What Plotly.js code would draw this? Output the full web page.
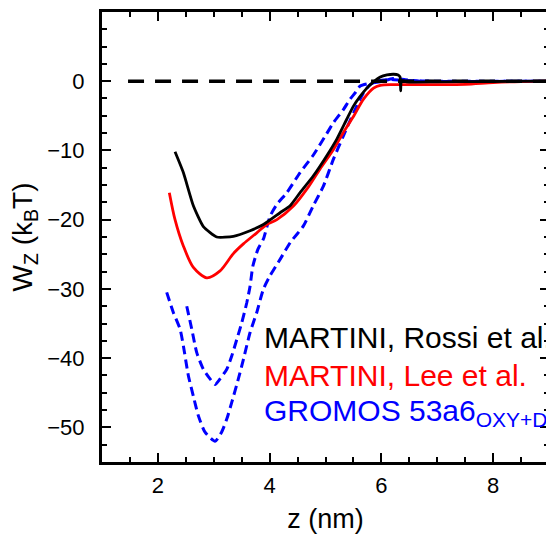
<!DOCTYPE html>
<html>
<head>
<meta charset="utf-8">
<script src="https://cdn.plot.ly/plotly-3.0.1.min.js"></script>
<style>
html, body { margin: 0; padding: 0; overflow: hidden; background: #fff; }
#chart { width: 600px; height: 534px; }
</style>
</head>
<body>
<div id="chart"></div>
<script>
// MARTINI, Rossi et al. (black)
const zRossi = [2.307, 2.456, 2.635, 2.814, 3.054, 3.351, 3.650, 3.888, 4.187, 4.366, 4.545, 4.78, 5.02, 5.20, 5.38, 5.50, 5.62, 5.74, 5.86, 5.98, 6.10, 6.22, 6.30, 6.335, 6.345, 6.36, 6.45, 7.0, 8.0, 9.0];
const wRossi = [-10.2, -13.2, -18.0, -21.0, -22.5, -22.4, -21.6, -20.7, -19.0, -18.0, -16.1, -13.7, -10.8, -8.4, -5.5, -3.6, -2.2, -1.0, -0.1, 0.6, 0.9, 1.0, 0.9, 0.6, -1.4, 0.1, -0.1, -0.1, -0.05, 0.0];

// MARTINI, Lee et al. (red)
const zLee = [2.205, 2.307, 2.456, 2.635, 2.875, 3.113, 3.351, 3.530, 3.770, 3.949, 4.13, 4.43, 4.665, 4.90, 5.14, 5.32, 5.50, 5.68, 5.86, 5.98, 6.22, 7.0, 7.5, 8.0, 8.5, 9.0];
const wLee = [-16.1, -20.0, -23.8, -26.9, -28.4, -27.4, -24.9, -23.5, -21.9, -20.7, -20.0, -18.0, -15.6, -12.7, -9.9, -7.4, -5.1, -2.6, -1.0, -0.6, -0.5, -0.5, -0.45, -0.2, -0.05, 0.0];

// GROMOS 53a6, first profile (upper minimum, blue dashed)
const zGromosA = [2.517, 2.606, 2.696, 2.814, 2.934, 3.023, 3.113, 3.233, 3.322, 3.412, 3.501, 3.591, 3.650, 3.70, 3.79, 3.888, 4.008, 4.13, 4.307, 4.545, 4.78, 5.02, 5.141, 5.32, 5.44, 5.53, 5.62, 5.80, 5.98, 6.21, 6.43, 6.69, 9.0];
const wGromosA = [-32.5, -35.8, -39.2, -41.6, -43.0, -43.8, -43.0, -41.6, -39.7, -37.3, -34.9, -32.0, -29.6, -26.7, -24.3, -22.8, -19.5, -17.8, -16.1, -13.2, -10.7, -7.6, -6.0, -4.1, -2.6, -1.7, -0.7, -0.3, -0.1, 0.4, 0.2, 0.0, 0.0];

// GROMOS 53a6, second profile (deeper minimum, blue dashed)
const zGromosB = [2.158, 2.277, 2.397, 2.456, 2.545, 2.635, 2.724, 2.844, 3.023, 3.14, 3.233, 3.322, 3.44, 3.53, 3.65, 3.77, 3.89, 4.008, 4.19, 4.37, 4.605, 4.78, 4.96, 5.14, 5.32, 5.50, 5.68, 5.80, 5.92, 6.16, 6.4, 7.0, 9.0];
const wGromosB = [-30.5, -33.4, -35.8, -38.2, -42.5, -45.5, -48.3, -50.7, -52.0, -50.7, -48.8, -46.4, -43.0, -40.2, -36.3, -33.4, -30.0, -28.1, -25.7, -23.3, -20.9, -18.0, -15.2, -11.3, -7.9, -4.6, -1.7, -0.5, 0.0, 0.25, 0.1, 0.0, 0.0];

// zero reference line
const zZero = [1.466, 9.0];
const wZero = [0, 0];

const legendTexts = ["MARTINI, Rossi et al.", "MARTINI, Lee et al.", "GROMOS 53a6<sub>OXY+DPPC</sub>"];
const legendColors = ["#000000", "#ff0000", "#0000ff"];

const FONT = "Liberation Sans, Arial, Helvetica, sans-serif";

const traces = [
  {x: zGromosA, y: wGromosA, mode: "lines", line: {color: "#0000ff", width: 3, dash: "9px,5px", shape: "spline", smoothing: 0.6}, hoverinfo: "skip"},
  {x: zGromosB, y: wGromosB, mode: "lines", line: {color: "#0000ff", width: 3, dash: "9px,5px", shape: "spline", smoothing: 0.6}, hoverinfo: "skip"},
  {x: zLee, y: wLee, mode: "lines", line: {color: "#ff0000", width: 2.8, shape: "spline", smoothing: 0.8}, hoverinfo: "skip"},
  {x: zRossi, y: wRossi, mode: "lines", line: {color: "#000000", width: 2.8, shape: "spline", smoothing: 0.5}, hoverinfo: "skip"},
  {x: zZero, y: wZero, mode: "lines", line: {color: "#000000", width: 3.5, dash: "16px,11px"}, hoverinfo: "skip"}
];

const legendY = [-37.0, -42.5, -47.85];
const annotations = legendTexts.map((t, i) => ({
  x: 3.92, y: legendY[i], xref: "x", yref: "y",
  text: t, showarrow: false, xanchor: "left", yanchor: "middle",
  font: {family: FONT, size: 30, color: legendColors[i]}, xshift: -3
}));

const axisCommon = {
  showline: true, linewidth: 3, linecolor: "#000", mirror: "allticks",
  ticks: "inside", ticklen: 9, tickwidth: 2, tickcolor: "#000",
  showgrid: false, zeroline: false,
  tickfont: {family: FONT, size: 22, color: "#000"}
};

const layout = {
  width: 600, height: 534,
  margin: {l: 102, r: 51, t: 12, b: 72},
  paper_bgcolor: "#fff", plot_bgcolor: "#fff",
  showlegend: false,
  xaxis: Object.assign({}, axisCommon, {
    range: [1, 9], dtick: 2, tick0: 0, ticklabelstandoff: 2,
    minor: {dtick: 0.5, tick0: 0, ticks: "inside", ticklen: 5, tickwidth: 2, tickcolor: "#000"},
    title: {text: "z (nm)", font: {family: FONT, size: 27, color: "#000"}, standoff: 18}
  }),
  yaxis: Object.assign({}, axisCommon, {
    range: [-55, 9.99], dtick: 10, tick0: 0, ticklabelstandoff: 10,
    minor: {dtick: 2.5, tick0: 0, ticks: "inside", ticklen: 5, tickwidth: 2, tickcolor: "#000"},
    title: {text: "W<sub>Z</sub> (k<sub>B</sub>T)", font: {family: FONT, size: 28, color: "#000"}, standoff: 7}
  }),
  annotations: annotations
};

Plotly.newPlot("chart", traces, layout, {staticPlot: true, displayModeBar: false});
</script>
</body>
</html>
